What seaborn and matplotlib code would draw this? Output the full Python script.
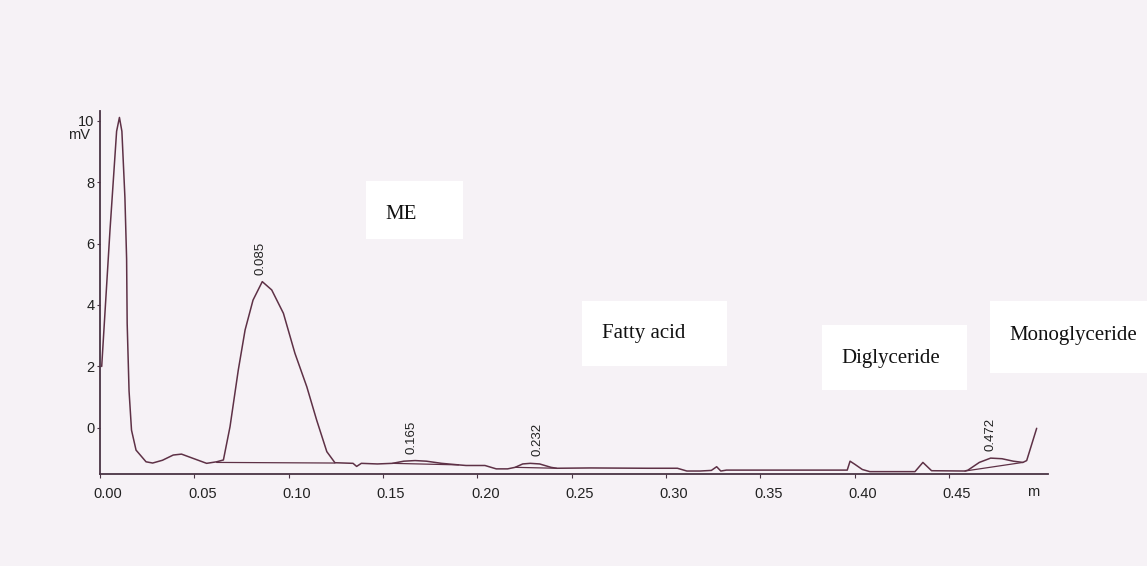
import matplotlib
matplotlib.use("Agg")
import matplotlib.pyplot as plt
from matplotlib.patches import Rectangle
from matplotlib.transforms import ScaledTranslation
import seaborn as sns
import pandas as pd

# ---- data (retention time in min, signal in mV) ----
time_min = [0.0009, 0.0053, 0.0088, 0.0103, 0.0116, 0.0132, 0.0141, 0.0144, 0.0154,
            0.0167, 0.0191, 0.0244, 0.0279, 0.0331, 0.0388, 0.0432, 0.0494, 0.0565,
            0.0618, 0.0654, 0.0689, 0.0733, 0.0769, 0.0811, 0.0860, 0.0910, 0.0972,
            0.1033, 0.1096, 0.1148, 0.1202, 0.1245, 0.1341, 0.1360, 0.1385, 0.1470,
            0.1550, 0.1610, 0.1670, 0.1730, 0.1810, 0.1900, 0.1940, 0.2040, 0.2100,
            0.2160, 0.2200, 0.2240, 0.2280, 0.2330, 0.2390, 0.2420, 0.2600, 0.2900,
            0.3060, 0.3110, 0.3180, 0.3240, 0.3268, 0.3290, 0.3320, 0.3960, 0.3975,
            0.4000, 0.4040, 0.4080, 0.4319, 0.4361, 0.4407, 0.4584, 0.4600, 0.4660,
            0.4720, 0.4780, 0.4840, 0.4891, 0.4911, 0.4964]
signal_mv = [2.00, 6.44, 9.65, 10.10, 9.65, 7.50, 5.50, 3.40, 1.20,
             -0.07, -0.72, -1.10, -1.14, -1.05, -0.88, -0.85, -0.99, -1.15,
             -1.10, -1.04, 0.04, 1.89, 3.19, 4.16, 4.76, 4.49, 3.73,
             2.43, 1.34, 0.26, -0.77, -1.13, -1.15, -1.25, -1.15, -1.17,
             -1.15, -1.08, -1.06, -1.08, -1.15, -1.20, -1.22, -1.22, -1.33,
             -1.33, -1.28, -1.17, -1.15, -1.17, -1.28, -1.31, -1.30, -1.31,
             -1.31, -1.40, -1.40, -1.38, -1.26, -1.40, -1.37, -1.37, -1.08,
             -1.18, -1.35, -1.42, -1.42, -1.12, -1.39, -1.40, -1.37, -1.12,
             -0.98, -1.00, -1.08, -1.12, -1.06, -0.01]

# integration baselines (start x, start y, end x, end y)
base_x0 = [0.0618, 0.1550, 0.2200, 0.4584]
base_y0 = [-1.12, -1.15, -1.28, -1.40]
base_x1 = [0.1245, 0.1900, 0.2420, 0.4891]
base_y1 = [-1.14, -1.20, -1.31, -1.12]

peak_rt = [0.085, 0.165, 0.232, 0.472]
peak_top = [4.76, -1.06, -1.15, -0.98]
peak_labels = ["0.085", "0.165", "0.232", "0.472"]

x_ticks = [0.00, 0.05, 0.10, 0.15, 0.20, 0.25, 0.30, 0.35, 0.40, 0.45]
y_ticks = [0, 2, 4, 6, 8, 10]

compound_names = ["ME", "Fatty acid", "Diglyceride", "Monoglyceride"]

# ---- style ----
sns.set_theme(style="white")
plt.rcParams["font.family"] = ["Liberation Sans", "DejaVu Sans"]

bg = "#f6f2f6"
trace_color = "#5e3146"
axis_color = "#4a3444"

W, H = 1147, 566
px0, px1 = 100, 1048              # x-axis pixel extent
py_bottom, py_top = 474.1, 111.3  # y-axis pixel extent

fig = plt.figure(figsize=(W / 100, H / 100), dpi=100, facecolor=bg)
ax = fig.add_axes([px0 / W, 1 - py_bottom / H, (px1 - px0) / W, (py_bottom - py_top) / H])
ax.set_facecolor(bg)

df = pd.DataFrame({"t": time_min, "mV": signal_mv})
sns.lineplot(data=df, x="t", y="mV", ax=ax, color=trace_color, linewidth=1.1,
             sort=False, estimator=None)

for xa, ya, xb, yb in zip(base_x0, base_y0, base_x1, base_y1):
    ax.plot([xa, xb], [ya, yb], color=trace_color, linewidth=0.9)

for rt, top, lab in zip(peak_rt, peak_top, peak_labels):
    ax.annotate(lab, xy=(rt, top), xytext=(0, 5), textcoords="offset points",
                rotation=90, ha="center", va="bottom", fontsize=9.5, color="#222222")

ax.set_xlim(0, 0.5024)
ax.set_ylim(-1.5, 10.3)
ax.set_xticks(x_ticks)
ax.set_xticklabels([f"{v:.2f}" for v in x_ticks])
ax.set_yticks(y_ticks)
ax.set_yticklabels([str(v) for v in y_ticks])
ax.set_xlabel("")
ax.set_ylabel("")

for s in ["top", "right"]:
    ax.spines[s].set_visible(False)
for s in ["left", "bottom"]:
    ax.spines[s].set_color(axis_color)
    ax.spines[s].set_linewidth(1.3)

ax.tick_params(axis="x", length=3, width=0.8, color=axis_color, pad=6.5,
               labelsize=10.5, labelcolor="#222222", bottom=True, direction="out")
ax.tick_params(axis="y", length=2.5, width=0.8, color=axis_color, pad=1.5,
               labelsize=10.5, labelcolor="#222222", left=True, direction="out")

shift = ScaledTranslation(0.08, 0, fig.dpi_scale_trans)
for lbl in ax.get_xticklabels():
    lbl.set_transform(lbl.get_transform() + shift)

ax.annotate("mV", xy=(0, 10), xycoords="data", xytext=(-7, -10.5),
            textcoords="offset points", ha="right", va="center",
            fontsize=10.5, color="#222222", annotation_clip=False)
ax.annotate("m", xy=(0.4944, 0), xycoords=("data", "axes fraction"),
            xytext=(0, -13), textcoords="offset points", ha="center", va="center",
            fontsize=10.5, color="#222222", annotation_clip=False)

# compound label boxes: (x0, x1, y0, y1, text x, text y)
boxes = [
    (0.1410, 0.1923, 6.16, 8.03, 0.1510, 6.93),
    (0.2553, 0.3321, 2.00, 4.13, 0.2659, 3.06),
    (0.3824, 0.4593, 1.24, 3.35, 0.3930, 2.27),
    (0.4716, 0.5549, 1.78, 4.13, 0.4819, 3.02),
]
for name, (x0, x1, y0, y1, tx, ty) in zip(compound_names, boxes):
    ax.add_patch(Rectangle((x0, y0), x1 - x0, y1 - y0, facecolor="white",
                           edgecolor="none", zorder=5, clip_on=False))
    ax.text(tx, ty, name, fontsize=15, family=["Liberation Serif", "DejaVu Serif"],
            color="#111111", ha="left", va="center", zorder=6, clip_on=False)

fig.savefig("out.png", dpi=100, facecolor=bg)
